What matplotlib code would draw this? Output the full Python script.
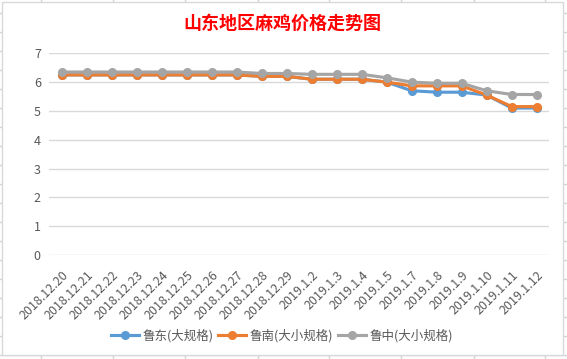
import matplotlib
matplotlib.use("Agg")
import matplotlib.pyplot as plt
from matplotlib.patches import Rectangle
from matplotlib.lines import Line2D

plt.rcParams['font.family'] = ['Noto Sans CJK SC', 'DejaVu Sans']

dates = ['2018.12.20', '2018.12.21', '2018.12.22', '2018.12.23', '2018.12.24',
         '2018.12.25', '2018.12.26', '2018.12.27', '2018.12.28', '2018.12.29',
         '2019.1.2', '2019.1.3', '2019.1.4', '2019.1.5', '2019.1.7',
         '2019.1.8', '2019.1.9', '2019.1.10', '2019.1.11', '2019.1.12']
ludong = [6.25, 6.25, 6.25, 6.25, 6.25, 6.25, 6.25, 6.25, 6.2, 6.2,
          6.1, 6.1, 6.1, 6.0, 5.7, 5.65, 5.65, 5.55, 5.1, 5.1]
lunan = [6.25, 6.25, 6.25, 6.25, 6.25, 6.25, 6.25, 6.25, 6.2, 6.2,
         6.1, 6.1, 6.1, 6.0, 5.87, 5.87, 5.87, 5.55, 5.15, 5.15]
luzhong = [6.35, 6.35, 6.35, 6.35, 6.35, 6.35, 6.35, 6.35, 6.3, 6.3,
           6.27, 6.27, 6.27, 6.15, 6.0, 5.96, 5.96, 5.7, 5.57, 5.57]
names = ['鲁东(大规格)', '鲁南(大小规格)', '鲁中(大小规格)']
colors = ['#5B9BD5', '#ED7D31', '#A5A5A5']

W, H = 567, 359
fig = plt.figure(figsize=(W / 100, H / 100), dpi=100)
fig.patch.set_facecolor('white')

# spreadsheet cells behind the chart
bg = fig.add_axes([0, 0, 1, 1], zorder=0)
bg.set_xlim(0, W)
bg.set_ylim(H, 0)
bg.axis('off')
for y in range(13, H, 19):
    bg.axhline(y, color='#D4D4D4', lw=1, zorder=1)
for x in [41, 113, 185, 258, 329, 401, 474, 545]:
    bg.axvline(x, color='#D4D4D4', lw=1, zorder=1)
bg.add_patch(Rectangle((2, 2), 561, 353, facecolor='white', edgecolor='#D9D9D9',
                       lw=1, zorder=5))

ax = fig.add_axes([49.2 / W, 1 - 255 / H, 500 / W, (255 - 53.3) / H], zorder=1)
ax.patch.set_alpha(0)
x = list(range(len(dates)))
for vals, name, c in zip([ludong, lunan, luzhong], names, colors):
    ax.plot(x, vals, color=c, lw=2.25, marker='o', markersize=5.5, label=name,
            solid_capstyle='round')

ax.set_xlim(-0.5, len(dates) - 0.5)
ax.set_ylim(0, 7)
ax.set_yticks(range(0, 8))
ax.grid(axis='y', color='#D9D9D9', lw=1)
ax.set_axisbelow(True)
for s in ax.spines.values():
    s.set_visible(False)
ax.tick_params(length=0, colors='#595959', labelsize=9)
ax.tick_params(axis='y', pad=6)
ax.set_xticks(x)
ax.set_xticklabels(dates, rotation=45, ha='right', va='top', rotation_mode='anchor')
ax.tick_params(axis='x', pad=10)

fig.text(282 / W, 1 - 23 / H, '山东地区麻鸡价格走势图', ha='center', va='center',
         fontsize=13, fontweight='bold', color='#FF0000')

handles = [Line2D([], [], color=c, lw=2.25, marker='o', markersize=5.5) for c in colors]
leg = fig.legend(handles, names, loc='center', bbox_to_anchor=(282 / W, 1 - 336 / H),
                 ncol=3, frameon=False, fontsize=9, handlelength=2.2,
                 handletextpad=0.3, columnspacing=0.4)
for t in leg.get_texts():
    t.set_color('#595959')

fig.savefig('out.png', dpi=100)
